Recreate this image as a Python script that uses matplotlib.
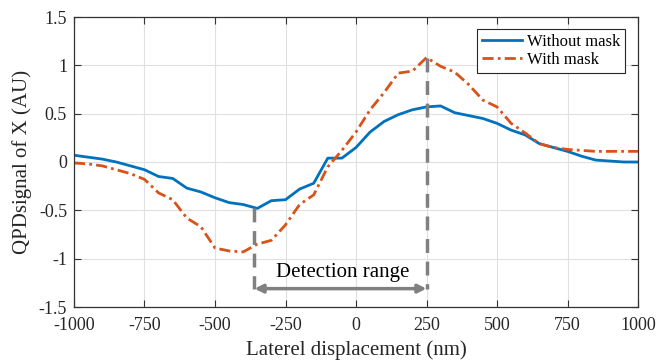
import matplotlib.pyplot as plt
import numpy as np

plt.rcParams['font.family'] = ['Liberation Serif', 'DejaVu Serif']
plt.rcParams['axes.unicode_minus'] = False

x_nm = np.arange(-1000, 1001, 50)
without_mask = [0.07, 0.05, 0.03, 0.00, -0.04, -0.08, -0.15, -0.17, -0.27, -0.31,
                -0.37, -0.42, -0.44, -0.48, -0.40, -0.39, -0.28, -0.22, 0.04, 0.04,
                0.15, 0.31, 0.42, 0.49, 0.54, 0.57, 0.58, 0.51, 0.48, 0.45,
                0.40, 0.33, 0.28, 0.19, 0.15, 0.11, 0.06, 0.02, 0.01, 0.00, 0.00]
with_mask = [-0.01, -0.02, -0.04, -0.08, -0.12, -0.18, -0.32, -0.39, -0.58, -0.67,
             -0.89, -0.92, -0.93, -0.85, -0.81, -0.65, -0.44, -0.34, -0.05, 0.12,
             0.31, 0.54, 0.72, 0.92, 0.94, 1.08, 0.99, 0.93, 0.80, 0.64,
             0.57, 0.40, 0.30, 0.19, 0.15, 0.13, 0.12, 0.11, 0.11, 0.11, 0.11]

# detection range markers
range_lo, range_hi = -360, 250
lo_y, hi_y = -0.48, 1.08
arrow_y = -1.31

fig = plt.figure(figsize=(6.58, 3.61), dpi=100)
ax = fig.add_axes([74/658, 1 - 307/361, 564/658, 290/361])

ax.plot(x_nm, without_mask, color="#0072BD", lw=2, label="Without mask")
ax.plot(x_nm, with_mask, color="#D95319", lw=2, ls=(0, (4, 1.5, 1, 1.5)), label="With mask")

gray = "#808080"
ax.plot([range_lo, range_lo], [lo_y, arrow_y], color=gray, lw=2.5, ls=(0, (4, 2.5)))
ax.plot([range_hi, range_hi], [hi_y, arrow_y], color=gray, lw=2.5, ls=(0, (4, 2.5)))
ax.annotate("", xy=(range_lo, arrow_y), xytext=(range_hi, arrow_y),
            arrowprops=dict(arrowstyle="<|-|>", color=gray, lw=2.5, mutation_scale=12,
                            shrinkA=0, shrinkB=0))
ax.text(-46, -1.14, "Detection range", ha="center", va="center", fontsize=15)

ax.set_xlim(-1000, 1000)
ax.set_ylim(-1.5, 1.5)
ax.set_xticks(np.arange(-1000, 1001, 250))
ax.set_yticks([-1.5, -1, -0.5, 0, 0.5, 1, 1.5])
ax.set_yticklabels(["-1.5", "-1", "-0.5", "0", "0.5", "1", "1.5"])
ax.tick_params(direction="in", top=True, right=True, labelsize=13, length=5,
               color="#333333", colors="#262626")
ax.tick_params(axis="x", pad=7)
ax.tick_params(axis="y", pad=5)
ax.grid(True, color="#e0e0e0", lw=0.8)
for s in ax.spines.values():
    s.set_color("#333333")
    s.set_linewidth(0.9)

ax.set_xlabel("Laterel displacement (nm)", fontsize=15, color="#262626", labelpad=5)
ax.set_ylabel("QPDsignal of X (AU)", fontsize=15, color="#262626", labelpad=5)

leg = ax.legend(loc="upper right", bbox_to_anchor=(0.977, 0.959), fontsize=12,
                fancybox=False, edgecolor="#262626", framealpha=1, handlelength=2.4,
                borderpad=0.3, labelspacing=0.1, handletextpad=0.3, borderaxespad=0)
leg.get_frame().set_linewidth(0.8)

fig.savefig("out.png", dpi=100)
